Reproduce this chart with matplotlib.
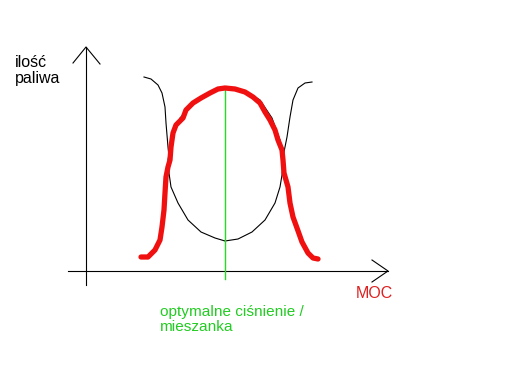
import matplotlib.pyplot as plt
import matplotlib as mpl

mpl.rcParams['font.family'] = ['Liberation Sans', 'DejaVu Sans']

# hand drawn sketch, x = MOC, y = ilosc paliwa (origin at axis crossing)
black_x = [58, 65, 72, 76, 79, 80, 82, 83, 83, 85, 92, 102, 115, 129, 139, 152, 166, 179, 189, 194, 196, 198, 201, 204, 207, 212, 219, 226]
black_y = [194, 192, 186, 178, 164, 148, 124, 114, 98, 84, 68, 51, 39, 33, 30, 32, 39, 51, 68, 84, 96, 119, 134, 154, 171, 183, 188, 189]

arc_x = [82, 86, 94, 109, 124, 139, 159, 174, 186, 194, 198]
arc_y = [111, 136, 153, 169, 179, 183, 180, 171, 153, 131, 111]

red_x = [55, 62, 69, 74, 76, 78, 79, 80, 82, 84, 85, 87, 90, 97, 100, 107, 115, 124, 132, 139,
         149, 159, 167, 174, 179, 184, 189, 192, 196, 197, 198, 202, 204, 207, 211, 216, 222, 227, 232]
red_y = [14, 14, 21, 31, 44, 61, 78, 94, 104, 111, 124, 138, 146, 153, 161, 168, 173, 178, 182, 183,
         182, 179, 174, 168, 159, 151, 141, 131, 121, 111, 98, 84, 68, 54, 43, 29, 18, 13, 12]

optimum_x = 139
optimum_top = 183

fig = plt.figure(figsize=(5.12, 3.84), dpi=100)
ax = fig.add_axes([0, 0, 1, 1])
ax.set_xlim(-86, 426)
ax.set_ylim(-113, 271)
ax.axis('off')

# axes with open arrowheads
ax.plot([-18, 302], [0, 0], color='black', lw=0.8)
ax.plot([286, 302, 286], [11, 0, -11], color='black', lw=0.8)
ax.plot([0, 0], [-14, 224], color='black', lw=0.8)
ax.plot([-13, 0, 14], [208, 224, 207], color='black', lw=0.8)

ax.plot(black_x, black_y, color='black', lw=0.8)
ax.plot(arc_x, arc_y, color='black', lw=0.8)
ax.plot([optimum_x, optimum_x], [-8, optimum_top], color='#22dd22', lw=1.0)
ax.plot(red_x, red_y, color='#f01010', lw=3.8, solid_capstyle='round', solid_joinstyle='round')

ax.text(-71, 216, 'ilość\npaliwa', fontsize=11.5, va='top', ha='left', linespacing=1.05)
ax.text(270, -15, 'MOC', fontsize=11.5, color='#dd2020', va='top', ha='left')
ax.text(74, -34, 'optymalne ciśnienie /\nmieszanka', fontsize=11.1, color='#22cc22',
        va='top', ha='left', linespacing=1.08)

plt.savefig('out.png', dpi=100)
plt.close()
